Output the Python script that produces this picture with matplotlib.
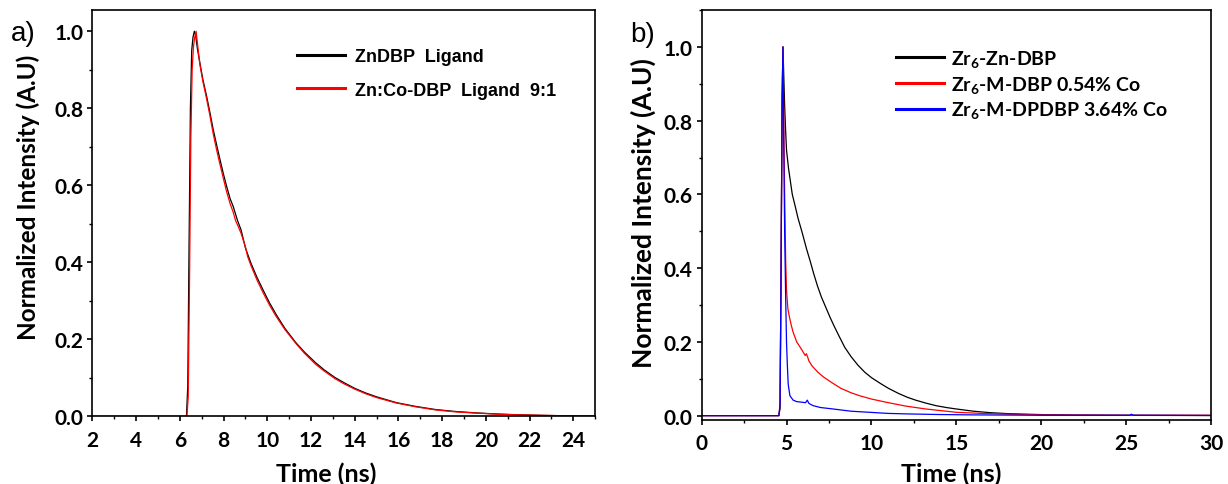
import matplotlib
matplotlib.use("Agg")
import matplotlib.pyplot as plt
from matplotlib import font_manager
from matplotlib.ticker import MultipleLocator, FormatStrFormatter

# ---------------- data ----------------
a_black_t = [2.0, 6.3, 6.36, 6.42, 6.48, 6.54, 6.6, 6.66, 6.72, 6.8, 6.91, 7.05, 7.22, 7.37,
             7.52, 7.68, 7.83, 7.98, 8.13, 8.3, 8.44, 8.64, 8.8, 9.0, 9.25, 9.52, 9.8, 10.1,
             10.4, 10.8, 11.3, 11.7, 12.2, 12.6, 13.1, 13.5, 14.0, 14.5, 15.0, 15.9, 16.8,
             17.7, 18.6, 19.5, 20.5, 21.3, 22.5, 23.5, 25.0]
a_black_i = [0.0, 0.0, 0.08, 0.45, 0.8, 0.95, 0.985, 1.0, 0.99, 0.955, 0.919, 0.875, 0.832, 0.79,
             0.746, 0.705, 0.668, 0.632, 0.599, 0.565, 0.545, 0.508, 0.484, 0.437, 0.398, 0.362,
             0.329, 0.295, 0.265, 0.229, 0.192, 0.167, 0.140, 0.121, 0.101, 0.088, 0.073, 0.061,
             0.051, 0.036, 0.026, 0.018, 0.013, 0.0095, 0.0065, 0.0048, 0.003, 0.002, 0.001]
a_red_t = [2.0, 6.32, 6.38, 6.44, 6.5, 6.56, 6.62, 6.68, 6.74, 6.82, 6.91, 7.05, 7.22, 7.37,
           7.52, 7.68, 7.83, 7.98, 8.13, 8.3, 8.44, 8.55, 8.64, 8.8, 9.0, 9.1, 9.25, 9.52, 9.8,
           10.1, 10.4, 10.8, 11.3, 11.7, 12.2, 12.6, 13.1, 13.5, 14.0, 14.5, 15.0, 15.9, 16.8,
           17.7, 18.6, 19.5, 20.5, 21.3, 22.5, 23.5, 25.0]
a_red_i = [0.0, 0.0, 0.05, 0.35, 0.72, 0.9, 0.96, 0.985, 1.0, 0.96, 0.915, 0.87, 0.825, 0.782,
           0.735, 0.692, 0.655, 0.62, 0.585, 0.552, 0.53, 0.508, 0.497, 0.475, 0.44, 0.415,
           0.392, 0.355, 0.322, 0.289, 0.26, 0.226, 0.19, 0.164, 0.136, 0.118, 0.098, 0.085,
           0.071, 0.059, 0.049, 0.035, 0.025, 0.017, 0.012, 0.009, 0.006, 0.0045, 0.003, 0.002,
           0.001]

b_black_t = [0.0, 4.55, 4.62, 4.68, 4.74, 4.79, 4.84, 4.89, 4.95, 5.0, 5.12, 5.23, 5.34, 5.5,
             5.68, 5.9, 6.18, 6.4, 6.6, 6.82, 7.05, 7.3, 7.55, 7.8, 8.1, 8.43, 8.8, 9.2, 9.6,
             10.0, 10.5, 11.0, 11.6, 12.1, 12.6, 13.2, 13.8, 14.4, 15.0, 16.0, 17.0, 18.0, 19.0,
             20.3, 22.0, 25.0, 30.0]
b_black_i = [0.0, 0.0, 0.02, 0.4, 0.85, 1.0, 0.92, 0.84, 0.77, 0.72, 0.67, 0.635, 0.6, 0.57,
             0.535, 0.5, 0.452, 0.418, 0.385, 0.352, 0.322, 0.295, 0.268, 0.243, 0.215, 0.185,
             0.16, 0.137, 0.118, 0.103, 0.088, 0.074, 0.06, 0.05, 0.042, 0.034, 0.027, 0.022,
             0.018, 0.012, 0.008, 0.0055, 0.004, 0.0025, 0.0015, 0.0008, 0.0003]
b_red_t = [0.0, 4.55, 4.62, 4.68, 4.74, 4.79, 4.84, 4.89, 4.95, 5.0, 5.08, 5.16, 5.28, 5.39,
           5.6, 5.88, 6.1, 6.17, 6.25, 6.32, 6.5, 6.86, 7.2, 7.65, 8.2, 8.8, 9.3, 10.0, 10.9,
           12.0, 13.2, 15.0, 16.5, 18.0, 20.0, 22.0, 25.0, 30.0]
b_red_i = [0.0, 0.0, 0.03, 0.4, 0.85, 1.0, 0.8, 0.6, 0.42, 0.34, 0.29, 0.27, 0.245, 0.226,
           0.2, 0.18, 0.163, 0.168, 0.158, 0.148, 0.135, 0.117, 0.104, 0.09, 0.074, 0.062,
           0.054, 0.045, 0.036, 0.026, 0.018, 0.009, 0.006, 0.004, 0.002, 0.0015, 0.001, 0.001]
b_blue_t = [0.0, 4.55, 4.62, 4.68, 4.74, 4.79, 4.84, 4.89, 4.95, 5.0, 5.05, 5.1, 5.2, 5.39,
            5.6, 5.98, 6.12, 6.22, 6.32, 6.57, 7.0, 7.75, 8.8, 9.9, 11.0, 12.25, 14.0, 16.0,
            20.0, 25.2, 25.3, 25.4, 30.0]
b_blue_i = [0.0, 0.0, 0.03, 0.4, 0.85, 1.0, 0.72, 0.5, 0.32, 0.2, 0.136, 0.085, 0.054, 0.042,
            0.038, 0.036, 0.035, 0.042, 0.033, 0.027, 0.022, 0.018, 0.012, 0.009, 0.006,
            0.0045, 0.003, 0.002, 0.001, 0.001, 0.004, 0.001, 0.0005]

a_labels = ["ZnDBP  Ligand", "Zn:Co-DBP  Ligand  9:1"]
b_labels = ["Zr$_6$-Zn-DBP", "Zr$_6$-M-DBP 0.54% Co", "Zr$_6$-M-DPDBP 3.64% Co"]
xlabel = "Time (ns)"
ylabel = "Normalized Intensity (A.U)"

# ---------------- fonts ----------------
names = {f.name for f in font_manager.fontManager.ttflist}
MAIN = "Liberation Sans Narrow" if "Liberation Sans Narrow" in names else "Lato"
WIDE = "Liberation Sans" if "Liberation Sans" in names else "DejaVu Sans"
plt.rcParams["font.family"] = [MAIN, "DejaVu Sans"]
plt.rcParams["font.weight"] = "bold"
plt.rcParams["mathtext.fontset"] = "custom"
plt.rcParams["mathtext.rm"] = MAIN + ":bold"
plt.rcParams["mathtext.it"] = MAIN + ":bold"
plt.rcParams["mathtext.bf"] = MAIN + ":bold"
plt.rcParams["mathtext.default"] = "rm"

fig = plt.figure(figsize=(12.28, 4.85), dpi=100)
axa = fig.add_axes([0.0753, 0.1392, 0.4094, 0.8388])
axb = fig.add_axes([0.5713, 0.1326, 0.4151, 0.8447])

lw = 0.9
axa.plot(a_black_t, a_black_i, color="black", lw=lw)
axa.plot(a_red_t, a_red_i, color="red", lw=lw)
axb.plot(b_black_t, b_black_i, color="black", lw=lw)
axb.plot(b_red_t, b_red_i, color="red", lw=lw)
axb.plot(b_blue_t, b_blue_i, color="blue", lw=lw)

axa.set_xlim(2, 25)
axa.set_ylim(0, 1.056)
axa.xaxis.set_major_locator(MultipleLocator(2))
axa.xaxis.set_minor_locator(MultipleLocator(1))
axb.set_xlim(0, 30)
axb.set_ylim(-0.011, 1.1)
axb.xaxis.set_major_locator(MultipleLocator(5))
axb.xaxis.set_minor_locator(MultipleLocator(2.5))

for ax in (axa, axb):
    ax.yaxis.set_major_locator(MultipleLocator(0.2))
    ax.yaxis.set_minor_locator(MultipleLocator(0.1))
    ax.yaxis.set_major_formatter(FormatStrFormatter("%.1f"))
    for s in ax.spines.values():
        s.set_linewidth(1.2)
    ax.tick_params(which="major", direction="out", length=3.6, width=1.2,
                   labelsize=15, top=False, right=False)
    ax.tick_params(which="minor", direction="out", length=2.2, width=1.0,
                   top=False, right=False)
    ax.tick_params(axis="x", which="major", pad=6)
    ax.tick_params(axis="y", which="major", pad=3)

axa.set_xlabel(xlabel, fontsize=18, fontweight="bold")
axb.set_xlabel(xlabel, fontsize=18, fontweight="bold")
axa.set_ylabel(ylabel, fontsize=17.5, fontweight="bold")
axb.set_ylabel(ylabel, fontsize=19, fontweight="bold")

axa.xaxis.set_label_coords(0.464, -0.11)
axa.yaxis.set_label_coords(-0.104, 0.54)
axb.xaxis.set_label_coords(0.49, -0.102)
axb.yaxis.set_label_coords(-0.090, 0.506)

leg_a = axa.legend(a_labels, loc="upper left", bbox_to_anchor=(0.407, 0.905),
                   frameon=False, borderpad=0, borderaxespad=0, handlelength=2.67,
                   handletextpad=0.55, labelspacing=0.9,
                   prop={"family": [WIDE], "weight": "bold", "size": 13})
for h in leg_a.get_lines():
    h.set_linewidth(2.2)
leg_b = axb.legend(b_labels, loc="upper left", bbox_to_anchor=(0.381, 0.908),
                   frameon=False, borderpad=0, borderaxespad=0, handlelength=2.5,
                   handletextpad=0.36, labelspacing=0.25,
                   prop={"family": [MAIN, "DejaVu Sans"], "weight": "bold", "size": 14})
for h in leg_b.get_lines():
    h.set_linewidth(2.2)

fig.text(23 / 1228, 1 - 34 / 485, "a)", fontsize=20, family=[WIDE], fontweight="normal",
         ha="center", va="center")
fig.text(643 / 1228, 1 - 35 / 485, "b)", fontsize=20, family=[WIDE], fontweight="normal",
         ha="center", va="center")

fig.savefig("out.png", dpi=100)
